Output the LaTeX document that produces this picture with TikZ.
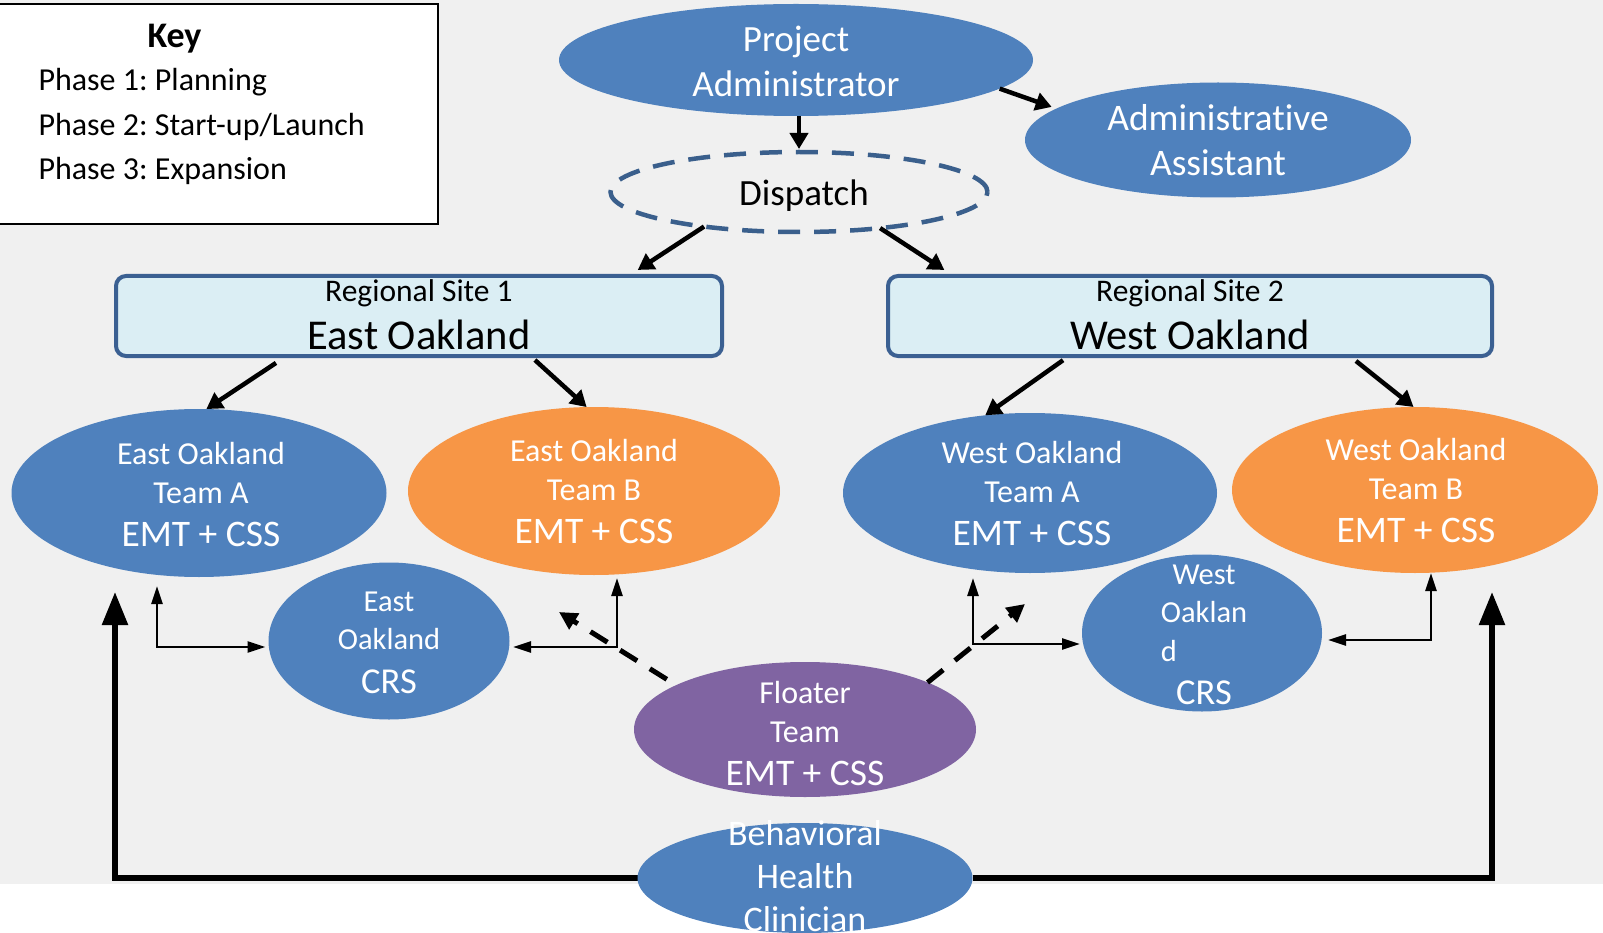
\documentclass[tikz,border=0pt]{standalone}
\usepackage{fontspec}
\setmainfont{Carlito}[Ligatures={NoCommon,NoContextual,NoRare}]
\usetikzlibrary{arrows.meta,shapes.geometric,backgrounds}
\definecolor{bgc}{HTML}{F0F0F0}
\definecolor{cblue}{HTML}{4F81BD}
\definecolor{corange}{HTML}{F79646}
\definecolor{cpurple}{HTML}{8064A2}
\definecolor{cpale}{HTML}{DBEEF4}
\definecolor{cedge}{HTML}{3B6092}
\definecolor{cdash}{HTML}{3A5F8C}
\newcommand{\fsz}[2]{\fontsize{#1pt}{#2pt}\selectfont}
\frenchspacing
\begin{document}
\begin{tikzpicture}[x=1pt,y=-1pt,
  oval/.style={ellipse,inner sep=0pt,outer sep=0pt},
  blueoval/.style={oval,fill=cblue},
  orangeoval/.style={oval,fill=corange},
  purpleoval/.style={oval,fill=cpurple},
  sitebox/.style={rectangle,rounded corners=10pt,draw=cedge,line width=4pt,fill=cpale,inner sep=0pt,outer sep=0pt,minimum height=80pt},
  dispoval/.style={oval,draw=cdash,line width=4.5pt,dash pattern=on 22pt off 14pt},
  wtxt/.style={text=white,align=center,inner sep=0pt,outer sep=0pt},
  btxt/.style={text=black,align=center,inner sep=0pt,outer sep=0pt},
  keyline/.style={anchor=base west,font=\fsz{32}{40}},
  arr/.style={line width=4.5pt,-{Triangle[length=16pt,width=18pt]}},
  thinarr/.style={line width=2.5pt,{Triangle[length=18pt,width=11pt]}-{Triangle[length=18pt,width=11pt]}},
  bigarr/.style={line width=5.5pt,-{Triangle[length=33pt,width=25pt]}},
  dasharr/.style={line width=5pt,dash pattern=on 20pt off 15pt,-{Triangle[length=18pt,width=18pt]}}
]
\useasboundingbox (0,0) rectangle (1603,933);

% key
\node[draw=black,line width=1.2pt,fill=white,minimum width=440pt,minimum height=220pt,anchor=north west,inner sep=0pt,outer sep=0pt] (key) at (-2,4) {};
\node[anchor=base,font=\bfseries\fsz{36}{40}] (keyt) at (174.5,48) {Key};
\node[keyline] (k1) at (35,91) {Phase 1: Planning};
\node[keyline] (k2) at (35,136) {Phase 2: Start-up/Launch};
\node[keyline] (k3) at (35,180) {Phase 3: Expansion};

% teams
\node[blueoval,minimum width=375pt,minimum height=168pt] (eoa) at (199,493) {};
\node[orangeoval,minimum width=372pt,minimum height=168pt] (eob) at (594,491) {};
\node[blueoval,minimum width=374pt,minimum height=160pt] (woa) at (1030,493) {};
\node[orangeoval,minimum width=366pt,minimum height=166pt] (wob) at (1415,490) {};

% clinician and feedback lines (lines behind it)
\node[blueoval,minimum width=335pt,minimum height=110pt] (bh) at (805,878) {};
\node[wtxt,font=\fsz{36}{43}] (bht) at (805,876) {Behavioral\\Health\\Clinician};
\begin{scope}[on background layer]
\fill[bgc] (0,0) rectangle (1603,884);
\draw[bigarr,shorten >=15pt] (bh.west) -| ([xshift=-84pt]eoa.south);
\draw[bigarr,shorten >=19pt] (bh.east) -| ([xshift=77pt]wob.south);
\end{scope}

% top
\node[blueoval,minimum width=474pt,minimum height=112pt] (pa) at (796,60) {};
\node[wtxt,font=\fsz{37}{45}] (pat) at (796,61) {Project\\Administrator};
\node[blueoval,minimum width=386pt,minimum height=115pt] (aa) at (1218,140) {};
\node[wtxt,font=\fsz{37.5}{45}] (aat) at (1218,140) {Administrative\\Assistant};
\node[dispoval,minimum width=377pt,minimum height=80pt] (disp) at (799,192) {};
\node[btxt,font=\fsz{37}{40}] (dispt) at (804,196) {Dispatch};

% regional sites
\node[sitebox,minimum width=606pt] (site1) at (419,316) {};
\node[btxt,font=\fsz{31.5}{48}] (site1t) at (419,315) {Regional Site 1\\{\fsz{42.5}{48}East Oakland}};
\node[sitebox,minimum width=604pt] (site2) at (1190,316) {};
\node[btxt,font=\fsz{31.5}{48}] (site2t) at (1190,315) {Regional Site 2\\{\fsz{42.5}{48}West Oakland}};

% team texts
\node[wtxt,font=\fsz{32}{39}] (eoat) at (201,494.5) {East Oakland\\Team A\\[4pt]{\fsz{37.5}{43}EMT + CSS}};
\node[wtxt,font=\fsz{32}{39}] (eobt) at (594,491.3) {East Oakland\\Team B\\[4pt]{\fsz{37.5}{43}EMT + CSS}};
\node[wtxt,font=\fsz{32}{39}] (woat) at (1032,493.8) {West Oakland\\Team A\\[4pt]{\fsz{37.5}{43}EMT + CSS}};
\node[wtxt,font=\fsz{32}{39}] (wobt) at (1416,490.8) {West Oakland\\Team B\\[4pt]{\fsz{37.5}{43}EMT + CSS}};

% CRS
\node[blueoval,minimum width=241pt,minimum height=157pt] (eocrs) at (389,641) {};
\node[wtxt,font=\fsz{30.5}{38}] (eocrst) at (389,643.3) {East\\Oakland\\[6pt]{\fsz{36.5}{44}CRS}};
\node[blueoval,minimum width=240pt,minimum height=157pt] (wocrs) at (1202,633) {};
\node[wtxt,font=\fsz{30.5}{38}] (wocrst) at (1204,635.3) {West\\Oaklan\\[1pt]\rlap{d}\phantom{Oaklan}\\[5pt]{\fsz{36.5}{44}CRS}};

% floater
\node[purpleoval,minimum width=342pt,minimum height=135pt] (floater) at (805,729.5) {};
\node[wtxt,font=\fsz{32}{39}] (floatert) at (805,734) {Floater\\Team\\[4pt]{\fsz{37.5}{43}EMT + CSS}};

% connectors
\draw[arr,shorten >=5pt] (pa.-8) -- (aa.169);
\draw[arr,shorten >=3pt] (pa.south -| disp.north) -- (disp.north);
\draw[arr,shorten >=11pt] (disp.200.5) -- ([xshift=209.5pt]site1.north);
\draw[arr,shorten >=11pt] (disp.-24.5) -- ([xshift=-236.4pt]site2.north);
\draw[arr,shorten <=12.6pt] ([xshift=-132.5pt]site1.south) -- (eoa.85);
\draw[arr,shorten <=6pt] ([xshift=111.5pt]site1.south) -- (eob.95);
\draw[arr,shorten <=7.3pt] ([xshift=-121pt]site2.south) -- (woa.120);
\draw[arr,shorten <=8pt] ([xshift=159.7pt]site2.south) -- (wob.91);

\draw[thinarr,shorten <=9pt,shorten >=3pt] ([xshift=-42pt]eoa.south) |- ([yshift=-6pt]eocrs.west);
\draw[thinarr,shorten <=3pt,shorten >=3.5pt] ([xshift=23pt]eob.south) |- ([yshift=-6pt]eocrs.east);
\draw[thinarr,shorten <=5pt,shorten >=2pt] ([xshift=-57pt]woa.south) |- ([yshift=-11pt]wocrs.west);
\draw[thinarr,shorten >=6pt] ([xshift=16pt]wob.south) |- ([yshift=-7pt]wocrs.east);

\coordinate (fl) at (559,612);
\coordinate (fr) at (1025,604);
\draw[dasharr,shorten <=11pt] (floater.161.4) -- (fl);
\draw[dasharr] (floater.21) -- (fr);
\end{tikzpicture}
\end{document}
